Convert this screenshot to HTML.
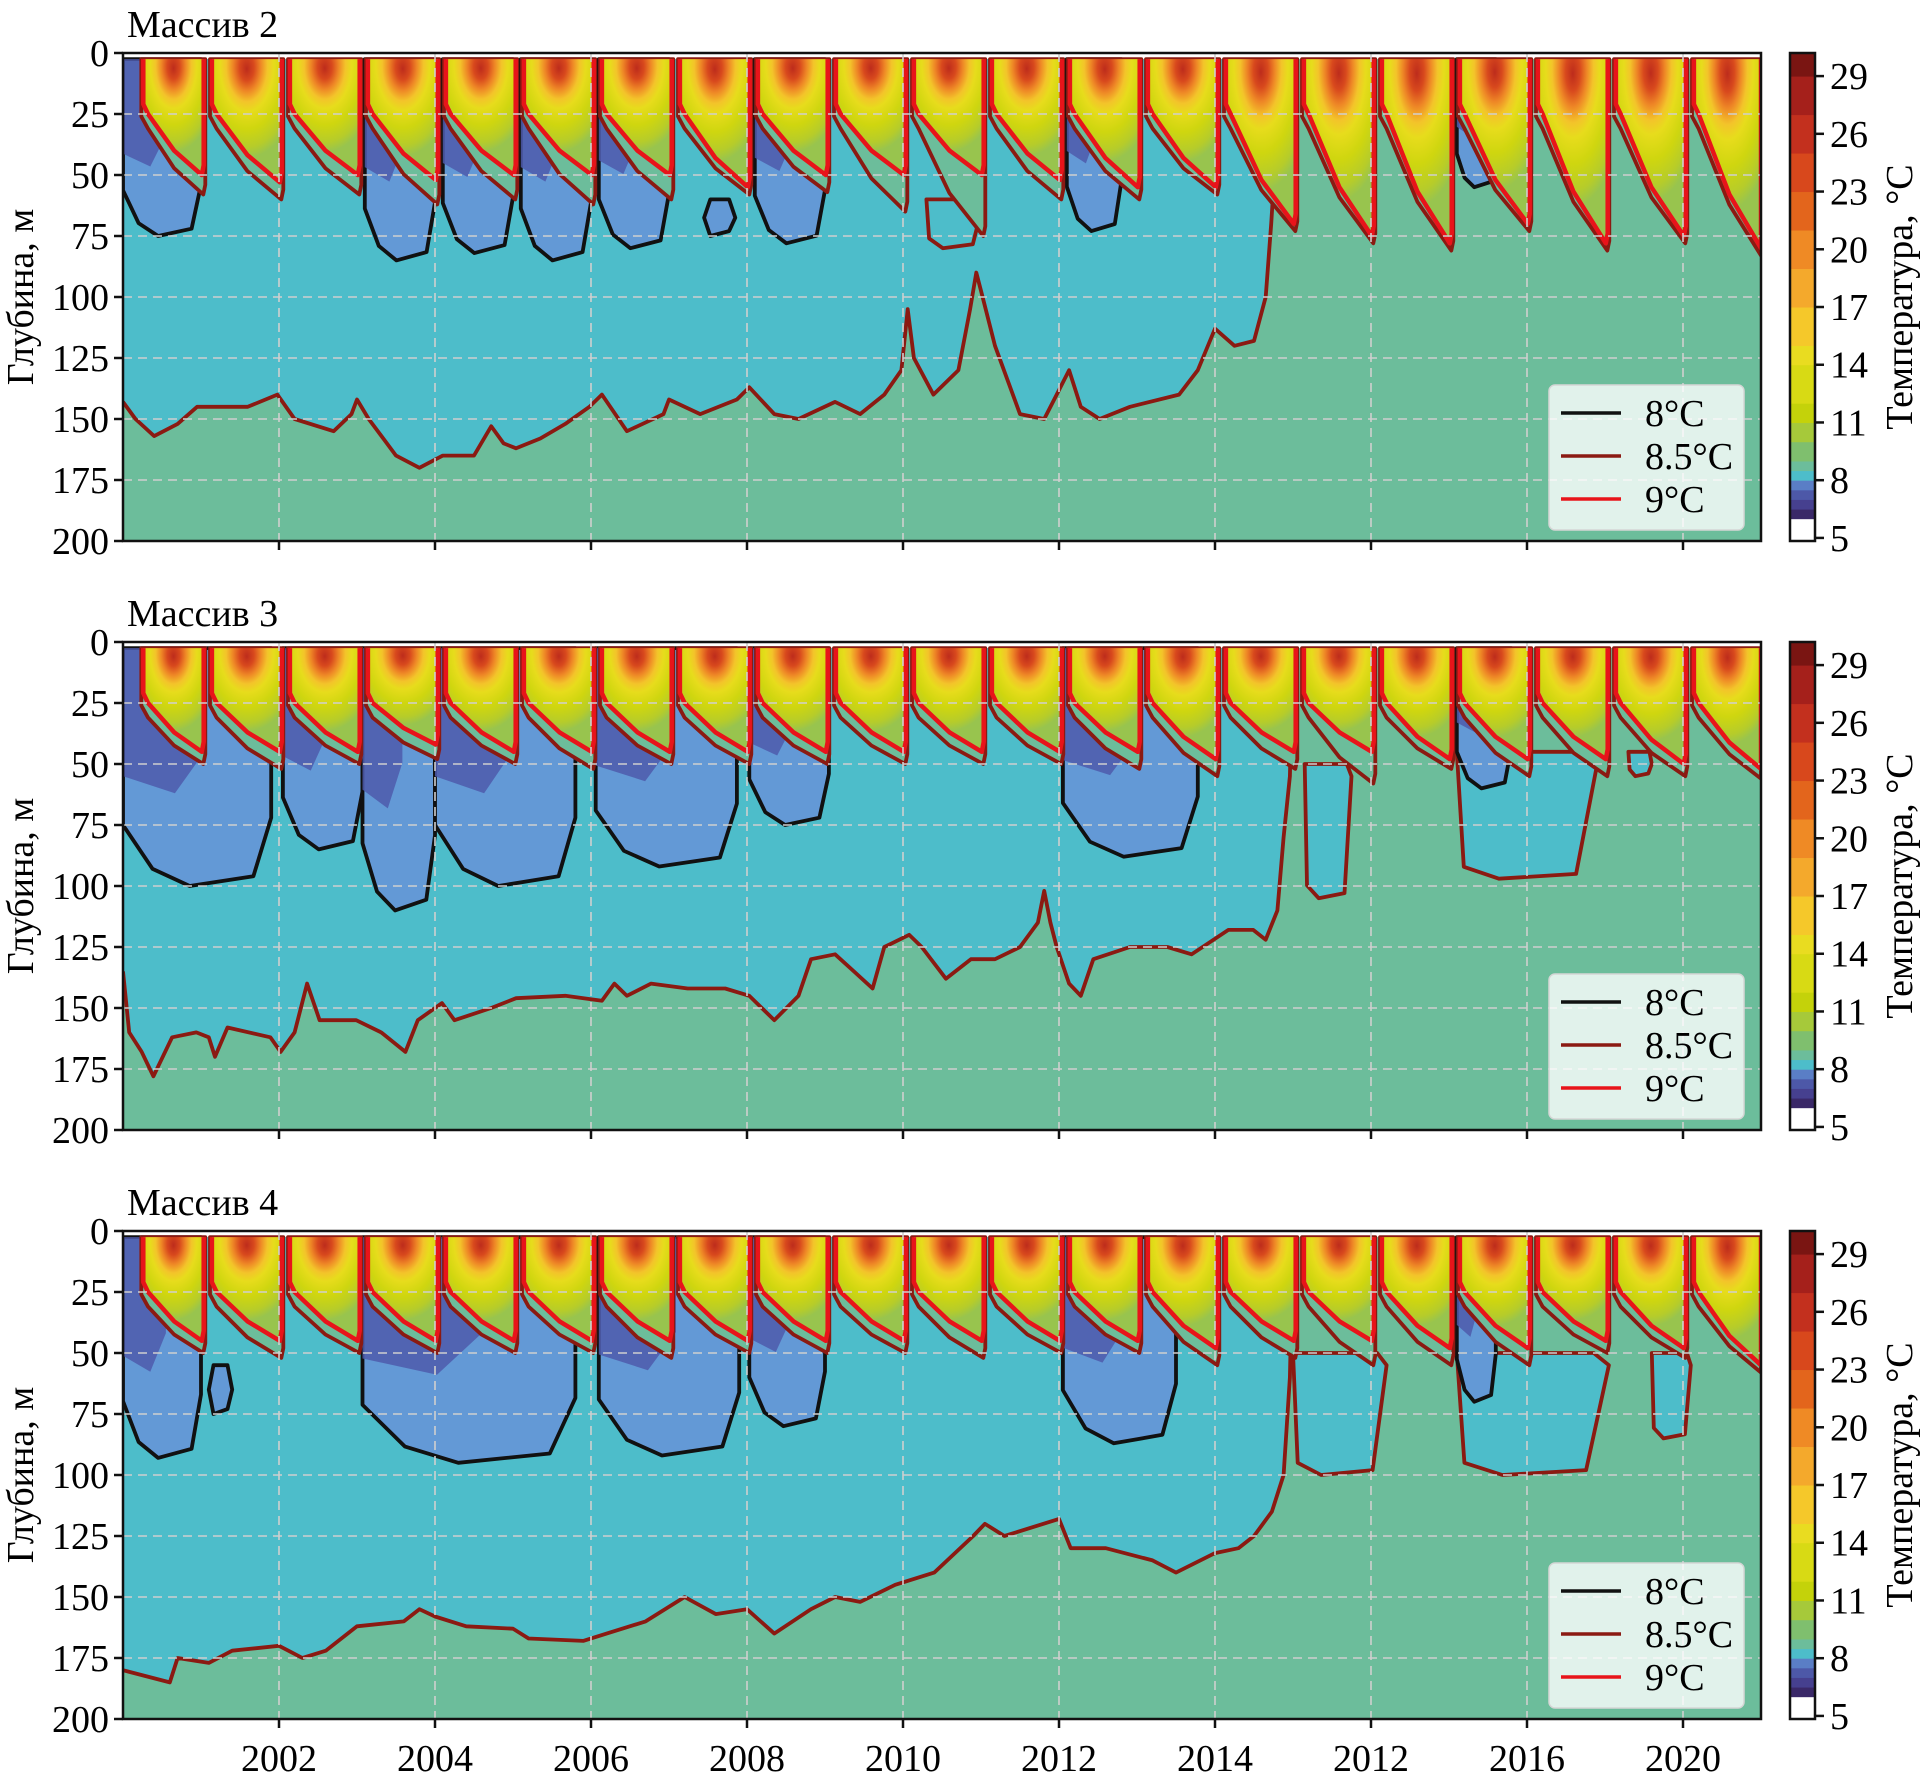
<!DOCTYPE html>
<html><head><meta charset="utf-8"><title>Temperature sections</title>
<style>html,body{margin:0;padding:0;background:#fff}svg{display:block}text{font-family:"Liberation Serif",serif;fill:#000}</style></head>
<body>
<svg id="chart" xmlns="http://www.w3.org/2000/svg" width="1928" height="1782" viewBox="0 0 1928 1782">
<defs>
<radialGradient id="warm" cx="0.5" cy="0.0" r="0.8" fx="0.5" fy="0.08">
<stop offset="0" stop-color="#bd2c1c"/><stop offset="0.13" stop-color="#d8491d"/><stop offset="0.25" stop-color="#ee8726"/>
<stop offset="0.37" stop-color="#f3c42a"/><stop offset="0.48" stop-color="#e7dc1c"/><stop offset="0.68" stop-color="#cfd60f"/>
<stop offset="0.88" stop-color="#b6cc2a"/><stop offset="1" stop-color="#98c44e"/></radialGradient>
</defs>
</svg>
<script>
const panelTitles = ['Массив 2', 'Массив 3', 'Массив 4'];
const yTicks = [0, 25, 50, 75, 100, 125, 150, 175, 200];
const xTickYears = [2002, 2004, 2006, 2008, 2010, 2012, 2014, 2016, 2018, 2020];
const xTickLabels = ['2002', '2004', '2006', '2008', '2010', '2012', '2014', '2012', '2016', '2020'];
const cbTicks = [5, 8, 11, 14, 17, 20, 23, 26, 29];
const legendLabels = ['8°C', '8.5°C', '9°C'];
const cbBounds = [4.84, 6, 6.5, 7, 7.5, 8, 8.5, 9, 10, 11, 12, 14, 15, 17, 19, 21, 23, 25, 27, 29, 30.2];
const cbColors = ['#ffffff', '#3a2868', '#46408f', '#4d58a8', '#5a7ec6', '#4dbdca', '#6cbd9b', '#7fbf6e', '#a6c93a', '#c4d20a', '#d8da14', '#e9dc20', '#f5c82a', '#f4a92c', '#ef8a25', '#e3651c', '#d8481c', '#c3301e', '#a5201b', '#7a1512'];

const deep1 = [[2000,143],[2000.16,150],[2000.4,157],[2000.7,152],[2000.95,145],[2001.6,145],[2001.98,140],[2002.2,150],[2002.7,155],[2002.93,148],[2003.0,142],[2003.15,150],[2003.5,165],[2003.8,170],[2004.1,165],[2004.5,165],[2004.72,153],[2004.88,160],[2005.04,162],[2005.35,158],[2005.67,152],[2005.98,145],[2006.14,140],[2006.46,155],[2006.93,148],[2007.0,142],[2007.4,148],[2007.87,142],[2008.03,137],[2008.35,148],[2008.66,150],[2009.13,143],[2009.45,148],[2009.76,140],[2009.98,130],[2010.06,105],[2010.14,125],[2010.39,140],[2010.71,130],[2010.86,105],[2010.94,90],[2011.02,100],[2011.18,120],[2011.5,148],[2011.81,150],[2011.97,140],[2012.13,130],[2012.28,145],[2012.52,150],[2012.91,145],[2013.54,140],[2013.78,130],[2014.0,113],[2014.25,120],[2014.5,118],[2014.65,100],[2014.72,70],[2014.78,40],[2014.8,3]];
const deep2 = [[2000,135],[2000.08,160],[2000.24,168],[2000.39,178],[2000.63,162],[2000.94,160],[2001.1,162],[2001.18,170],[2001.34,158],[2001.89,162],[2002.02,168],[2002.2,160],[2002.36,140],[2002.52,155],[2002.99,155],[2003.31,160],[2003.62,168],[2003.78,155],[2004.09,148],[2004.25,155],[2004.72,150],[2005.04,146],[2005.67,145],[2006.14,147],[2006.3,140],[2006.46,145],[2006.77,140],[2007.24,142],[2007.72,142],[2008.03,145],[2008.35,155],[2008.66,145],[2008.82,130],[2009.13,128],[2009.37,135],[2009.61,142],[2009.76,125],[2010.08,120],[2010.24,125],[2010.55,138],[2010.87,130],[2011.18,130],[2011.5,125],[2011.73,115],[2011.81,102],[2011.89,115],[2011.97,125],[2012.13,140],[2012.28,145],[2012.44,130],[2012.91,125],[2013.39,125],[2013.7,128],[2014.17,118],[2014.49,118],[2014.65,122],[2014.8,110],[2014.88,80],[2014.96,55],[2015.0,3]];
const deep3 = [[2000,180],[2000.6,185],[2000.7,175],[2001.1,177],[2001.4,172],[2002.0,170],[2002.3,175],[2002.6,172],[2003.0,162],[2003.6,160],[2003.8,155],[2004.0,158],[2004.4,162],[2005.0,163],[2005.2,167],[2005.9,168],[2006.2,165],[2006.7,160],[2007.2,150],[2007.6,157],[2008.0,155],[2008.35,165],[2008.82,155],[2009.13,150],[2009.45,152],[2009.9,145],[2010.4,140],[2010.9,125],[2011.05,120],[2011.3,125],[2011.8,120],[2012.0,118],[2012.15,130],[2012.6,130],[2013.2,135],[2013.5,140],[2014.0,132],[2014.3,130],[2014.5,125],[2014.73,115],[2014.88,100],[2014.96,60],[2015.0,3]];

const lenses1 = [[2000.0,2001.0,75,2.5],[2003.1,2004.0,85,2.5],[2004.1,2005.0,82,2.5],[2005.1,2006.0,85,2.5],[2006.1,2007.0,80,2.5],[2007.45,2007.85,75,60],[2008.1,2009.0,78,2.5],[2012.1,2012.8,73,2.5],[2017.1,2017.6,55,2.5]];
const lenses2 = [[2000.0,2001.9,100,2.5],[2002.05,2003.07,85,2.5],[2003.07,2004.0,110,2.5],[2004.0,2005.8,100,2.5],[2006.06,2007.87,92,2.5],[2008.03,2009.05,75,2.5],[2012.05,2013.78,88,2.5],[2017.1,2017.8,60,2.5]];
const lenses3 = [[2000.0,2001.0,93,2.5],[2001.1,2001.4,75,55],[2003.07,2005.8,95,2.5],[2006.1,2007.9,92,2.5],[2008.03,2009.0,80,2.5],[2012.05,2013.5,87,2.5],[2017.1,2017.6,70,2.5]];

const pockets1 = [[2010.3,2011.0,60,80]];
const pockets2 = [[2015.15,2015.75,50,105],[2017.1,2018.9,45,97],[2019.3,2019.6,45,55]];
const pockets3 = [[2015.0,2016.2,50,100],[2017.1,2019.05,50,100],[2019.6,2020.1,50,85]];

const d9_1 = [50,53,50,52,50,50,50,55,50,50,50,52,55,55,70,75,78,70,78,75,80];
const d85_1 = [58,60,58,62,60,62,60,58,57,65,75,60,60,58,73,78,81,73,81,78,83];
const d9_2 = [45,45,45,42,45,45,45,45,45,45,45,45,45,48,45,45,48,48,48,50,52];
const d85_2 = [50,52,50,48,50,52,50,50,50,50,50,50,52,55,52,58,52,55,55,55,56];
const d9_3 = [45,45,45,45,45,45,45,45,45,45,45,45,45,48,45,45,48,48,45,48,55];
const d85_3 = [50,52,50,50,50,50,52,50,50,50,52,50,50,55,52,55,55,55,50,52,58];

const panels = [
  {title: panelTitles[0], deep: deep1, lenses: lenses1, pockets: pockets1, d9: d9_1, d85: d85_1},
  {title: panelTitles[1], deep: deep2, lenses: lenses2, pockets: pockets2, d9: d9_2, d85: d85_2},
  {title: panelTitles[2], deep: deep3, lenses: lenses3, pockets: pockets3, d9: d9_3, d85: d85_3}
];

const NS = 'http://www.w3.org/2000/svg';
const svg = document.getElementById('chart');
const L = 123, R = 1761, PH = 488, TOPS = [53, 642, 1231];
const Y0 = 2000, Y1 = 2021;
function xs(yr) { return L + (Math.max(Y0, Math.min(Y1, yr)) - Y0) * (R - L) / (Y1 - Y0); }
function mk(tag, attrs, parent) { const e = document.createElementNS(NS, tag); for (const k in attrs) e.setAttribute(k, attrs[k]); (parent || svg).appendChild(e); return e; }
function pts(arr, ys) { return arr.map(p => xs(p[0]).toFixed(1) + ',' + ys(p[1]).toFixed(1)).join(' '); }

panels.forEach((P, pi) => {
  const top = TOPS[pi];
  const ys = d => top + d * PH / 200;
  const g = mk('g', {});
  
  
  const cp = mk('clipPath', {id: 'clip' + pi}, g);
  mk('rect', {x: L, y: top, width: R - L, height: PH}, cp);
  const plot = mk('g', {'clip-path': 'url(#clip' + pi + ')'}, g);
  
  
  mk('rect', {x: L, y: top, width: R - L, height: PH, fill: '#ffffff'}, plot);
  const bg = mk('rect', {x: L, y: ys(2.5), width: R - L, height: PH, fill: '#6cbd9b'}, plot);
  
  
  const last = P.deep[P.deep.length - 1][0];
  const cyanPts = [[Y0, 2.5]].concat(P.deep).concat([[last, 2.5]]);
  const cyan = mk('polygon', {points: pts(cyanPts, ys), fill: '#4dbdca'}, plot);
  
  
  P.pockets.forEach(pk => {
    const [s, e, t, b] = pk, w = e - s;
    const pp = [[s, t], [s + 0.05 * w, b * 0.95], [s + 0.3 * w, b], [e - 0.15 * w, b * 0.98], [e, t + 5], [e - 0.1 * w, t]];
    const pg = mk('polygon', {points: pts(pp, ys), fill: '#4dbdca', stroke: '#8b1a12', 'stroke-width': 3.8, 'stroke-linejoin': 'round'}, plot);
    
    
  });
  P.lenses.forEach(ln => {
    const [s, e, b, t] = ln, w = e - s;
    let lp;
    if (t > 3) {
      lp = [[s, (t + b) / 2], [s + 0.2 * w, b], [e - 0.2 * w, b - 2], [e, (t + b) / 2], [e - 0.2 * w, t], [s + 0.2 * w, t]];
    } else {
      lp = [[s, 2.5], [s, b * 0.75], [s + 0.2 * w, b * 0.93], [s + 0.45 * w, b], [e - 0.12 * w, b * 0.96], [e, b * 0.72], [e, 2.5]];
    }
    const lens = mk('polygon', {points: pts(lp, ys), fill: '#6399d6', stroke: '#111', 'stroke-width': 3.8, 'stroke-linejoin': 'round'}, plot);
    
    
    if (t <= 3) {
      const ip = [[s, 2.5], [s, b * 0.55], [s + 0.35 * w, b * 0.62], [s + 0.55 * w, b * 0.45], [s + 0.55 * w, 2.5]];
      const inner = mk('polygon', {points: pts(ip, ys), fill: '#4d5aab', opacity: 0.85}, plot);
      
      
    }
  });
  const dl = mk('polyline', {points: pts(P.deep, ys), fill: 'none', stroke: '#8b1a12', 'stroke-width': 3.8, 'stroke-linejoin': 'round'}, plot);
  
  
  P.d9.forEach((d9e, i) => {
    const yr = Y0 + i;
    const s = i === 0 ? 2000.26 : yr + 0.14;
    const e = Math.min(yr + 1.05, 2021.05);
    const w = e - s, d85e = P.d85[i];
    const band = [[s - 0.025, 2.5], [s - 0.025, 26], [s + 0.06, 31], [s + 0.5 * w, 31 + (d85e - 31) * 0.6], [e - 0.02, d85e], [e + 0.005, d85e - 4], [e + 0.005, 2.5]];
    const bp = mk('polygon', {points: pts(band, ys), fill: '#6cbd9b', stroke: '#8b1a12', 'stroke-width': 3.8, 'stroke-linejoin': 'round'}, plot);
    
    
    const warm = [[s, 2.5], [s, 21], [s + 0.06, 25], [s + 0.5 * w, 25 + (d9e - 25) * 0.6], [e - 0.04, d9e], [e - 0.015, d9e - 4], [e - 0.015, 2.5]];
    const wp = mk('polygon', {points: pts(warm, ys), fill: 'url(#warm)'}, plot);
    
    
    const rl = mk('polyline', {points: pts(warm, ys), fill: 'none', stroke: '#e8141a', 'stroke-width': 4.5, 'stroke-linejoin': 'round'}, plot);
    
    
  });
  yTicks.forEach(t => {
    if (t === 0 || t === 200) return;
    const gl = mk('line', {x1: L, x2: R, y1: ys(t), y2: ys(t), stroke: '#cfcfcf', 'stroke-width': 1.6, 'stroke-dasharray': '9,6'}, g);
    
    
  });
  xTickYears.forEach(yv => {
    const gl = mk('line', {x1: xs(yv), x2: xs(yv), y1: top, y2: top + PH, stroke: '#cfcfcf', 'stroke-width': 1.6, 'stroke-dasharray': '9,6'}, g);
    
    
  });
  const fr = mk('rect', {x: L, y: top, width: R - L, height: PH, fill: 'none', stroke: '#111', 'stroke-width': 2.5}, g);
  
  
  yTicks.forEach(t => {
    mk('line', {x1: L - 9, x2: L, y1: ys(t), y2: ys(t), stroke: '#111', 'stroke-width': 2.5}, g);
    const tl = mk('text', {x: L - 14, y: ys(t) + 13, 'font-size': 38, 'text-anchor': 'end'}, g);
    tl.textContent = t;
    
    
  });
  xTickYears.forEach((yv, k) => {
    mk('line', {x1: xs(yv), x2: xs(yv), y1: top + PH, y2: top + PH + 9, stroke: '#111', 'stroke-width': 2.5}, g);
    if (pi === 2) {
      const xl = mk('text', {x: xs(yv), y: 1771, 'font-size': 38, 'text-anchor': 'middle'}, g);
      xl.textContent = xTickLabels[k];
      
      
    }
  });
  const ti = mk('text', {x: 127, y: top - 16, 'font-size': 38}, g);
  ti.textContent = P.title;
  
  
  const yl = mk('text', {x: 0, y: 0, 'font-size': 38, 'text-anchor': 'middle', transform: 'translate(33,' + (top + PH / 2) + ') rotate(-90)'}, g);
  yl.textContent = 'Глубина, м';
  
  
  const lg = mk('g', {}, g);
  
  
  mk('rect', {x: 1549, y: top + 332, width: 195, height: 145, rx: 6, fill: '#ffffff', 'fill-opacity': 0.8, stroke: '#d6d6d6', 'stroke-width': 1.5}, lg);
  const lcol = ['#111111', '#8b1a12', '#e8141a'];
  legendLabels.forEach((lab, k) => {
    const yy = top + 360 + k * 43;
    const ll = mk('line', {x1: 1561, x2: 1621, y1: yy, y2: yy, stroke: lcol[k], 'stroke-width': 3.5}, lg);
    
    
    const lt = mk('text', {x: 1645, y: yy + 13, 'font-size': 38}, lg);
    lt.textContent = lab;
    
    
  });
  const cb = mk('g', {}, g);
  
  
  const vmin = cbBounds[0], vmax = cbBounds[cbBounds.length - 1];
  const cy = v => top + PH - (v - vmin) * PH / (vmax - vmin);
  cbColors.forEach((c, k) => {
    const y1 = cy(cbBounds[k + 1]), y2 = cy(cbBounds[k]);
    const r = mk('rect', {x: 1790, y: y1, width: 25, height: y2 - y1 + 0.5, fill: c}, cb);
    
    
  });
  mk('rect', {x: 1790, y: top, width: 25, height: PH, fill: 'none', stroke: '#111', 'stroke-width': 2.5}, cb);
  cbTicks.forEach(t => {
    mk('line', {x1: 1815, x2: 1824, y1: cy(t), y2: cy(t), stroke: '#111', 'stroke-width': 2.5}, cb);
    const ct = mk('text', {x: 1830, y: cy(t) + 13, 'font-size': 38}, cb);
    ct.textContent = t;
    
    
  });
  const cl = mk('text', {x: 0, y: 0, 'font-size': 38, 'text-anchor': 'middle', transform: 'translate(1912,' + (top + PH / 2) + ') rotate(-90)'}, cb);
  cl.textContent = 'Температура, °C';
  
  
});
</script>
</body></html>
